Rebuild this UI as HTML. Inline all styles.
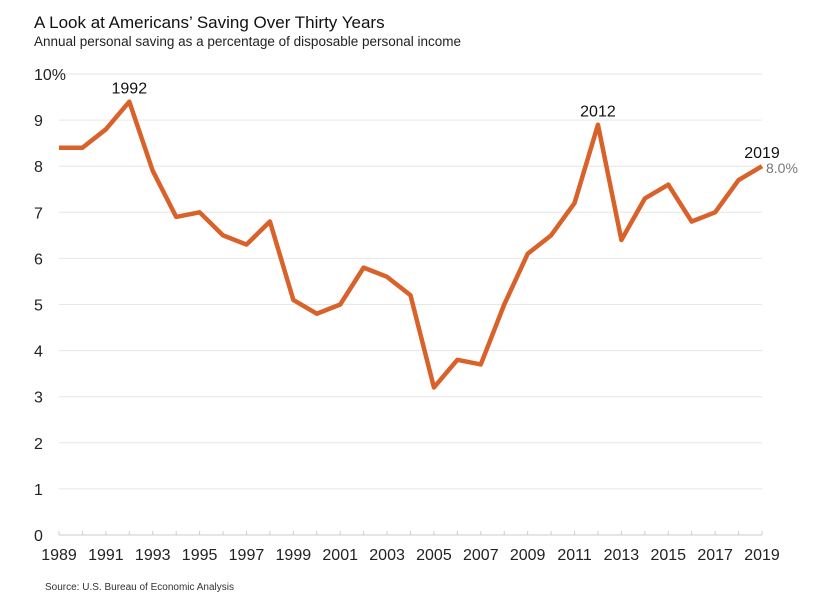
<!DOCTYPE html>
<html><head><meta charset="utf-8"><style>
body{margin:0;background:#fff;font-family:"Liberation Sans",sans-serif;}
</style></head><body>
<svg width="817" height="601" viewBox="0 0 817 601" xmlns="http://www.w3.org/2000/svg">
<text x="34" y="28" font-size="17" fill="#111">A Look at Americans’ Saving Over Thirty Years</text>
<text x="34" y="46" font-size="13.5" fill="#222">Annual personal saving as a percentage of disposable personal income</text>
<g id="grid"></g><g id="xt"></g><g id="yt"></g>
<path id="line" fill="none" stroke="#d9622b" stroke-width="4.5" stroke-linejoin="round"/>
<g id="ann"></g>
<text x="45" y="590" font-size="10" fill="#333">Source: U.S. Bureau of Economic Analysis</text>
</svg>
<script>
const years=[1989,1990,1991,1992,1993,1994,1995,1996,1997,1998,1999,2000,2001,2002,2003,2004,2005,2006,2007,2008,2009,2010,2011,2012,2013,2014,2015,2016,2017,2018,2019];
const savingRate=[8.4,8.4,8.8,9.4,7.9,6.9,7.0,6.5,6.3,6.8,5.1,4.8,5.0,5.8,5.6,5.2,3.2,3.8,3.7,5.0,6.1,6.5,7.2,8.9,6.4,7.3,7.6,6.8,7.0,7.7,8.0];
const yTicks=[0,1,2,3,4,5,6,7,8,9,10];
const NS="http://www.w3.org/2000/svg";
const x=v=>59+(v-1989)*(703/30);
const y=v=>535-v*46.1;
function mk(t,a,p,txt){const e=document.createElementNS(NS,t);for(const k in a)e.setAttribute(k,a[k]);if(txt!==undefined)e.textContent=txt;document.getElementById(p).appendChild(e);return e;}
yTicks.forEach(t=>{
 const g=mk('line',{x1:59,x2:762,y1:y(t),y2:y(t),stroke:t===0?'#ccc':'#e6e6e6','stroke-width':1},'grid');
 
 
 const l=mk('text',{x:34,y:y(t)+6,'font-size':16,fill:'#222'},'yt',t===10?'10%':String(t));
 
 
});
years.forEach(yr=>{
 const tk=mk('line',{x1:x(yr),x2:x(yr),y1:531,y2:535,stroke:'#ccc'},'xt');
 
 
 if((yr-1989)%2===0){
  const l=mk('text',{x:x(yr),y:560,'font-size':16,fill:'#222','text-anchor':'middle'},'xt',String(yr));
  
  
 }
});
document.getElementById('line').setAttribute('d',years.map((yr,i)=>(i?'L':'M')+x(yr)+','+y(savingRate[i])).join(''));
[[1992,'1992'],[2012,'2012'],[2019,'2019']].forEach(([yr,lab])=>{
 const i=years.indexOf(yr);
 const a=mk('text',{x:x(yr),y:y(savingRate[i])-8,'font-size':16,fill:'#111','text-anchor':'middle'},'ann',lab);
 
 
});
const last=savingRate[savingRate.length-1];
const v=mk('text',{x:x(2019)+4,y:y(last)+7,'font-size':14,fill:'#777'},'ann',last.toFixed(1)+'%');


</script>
</body></html>
